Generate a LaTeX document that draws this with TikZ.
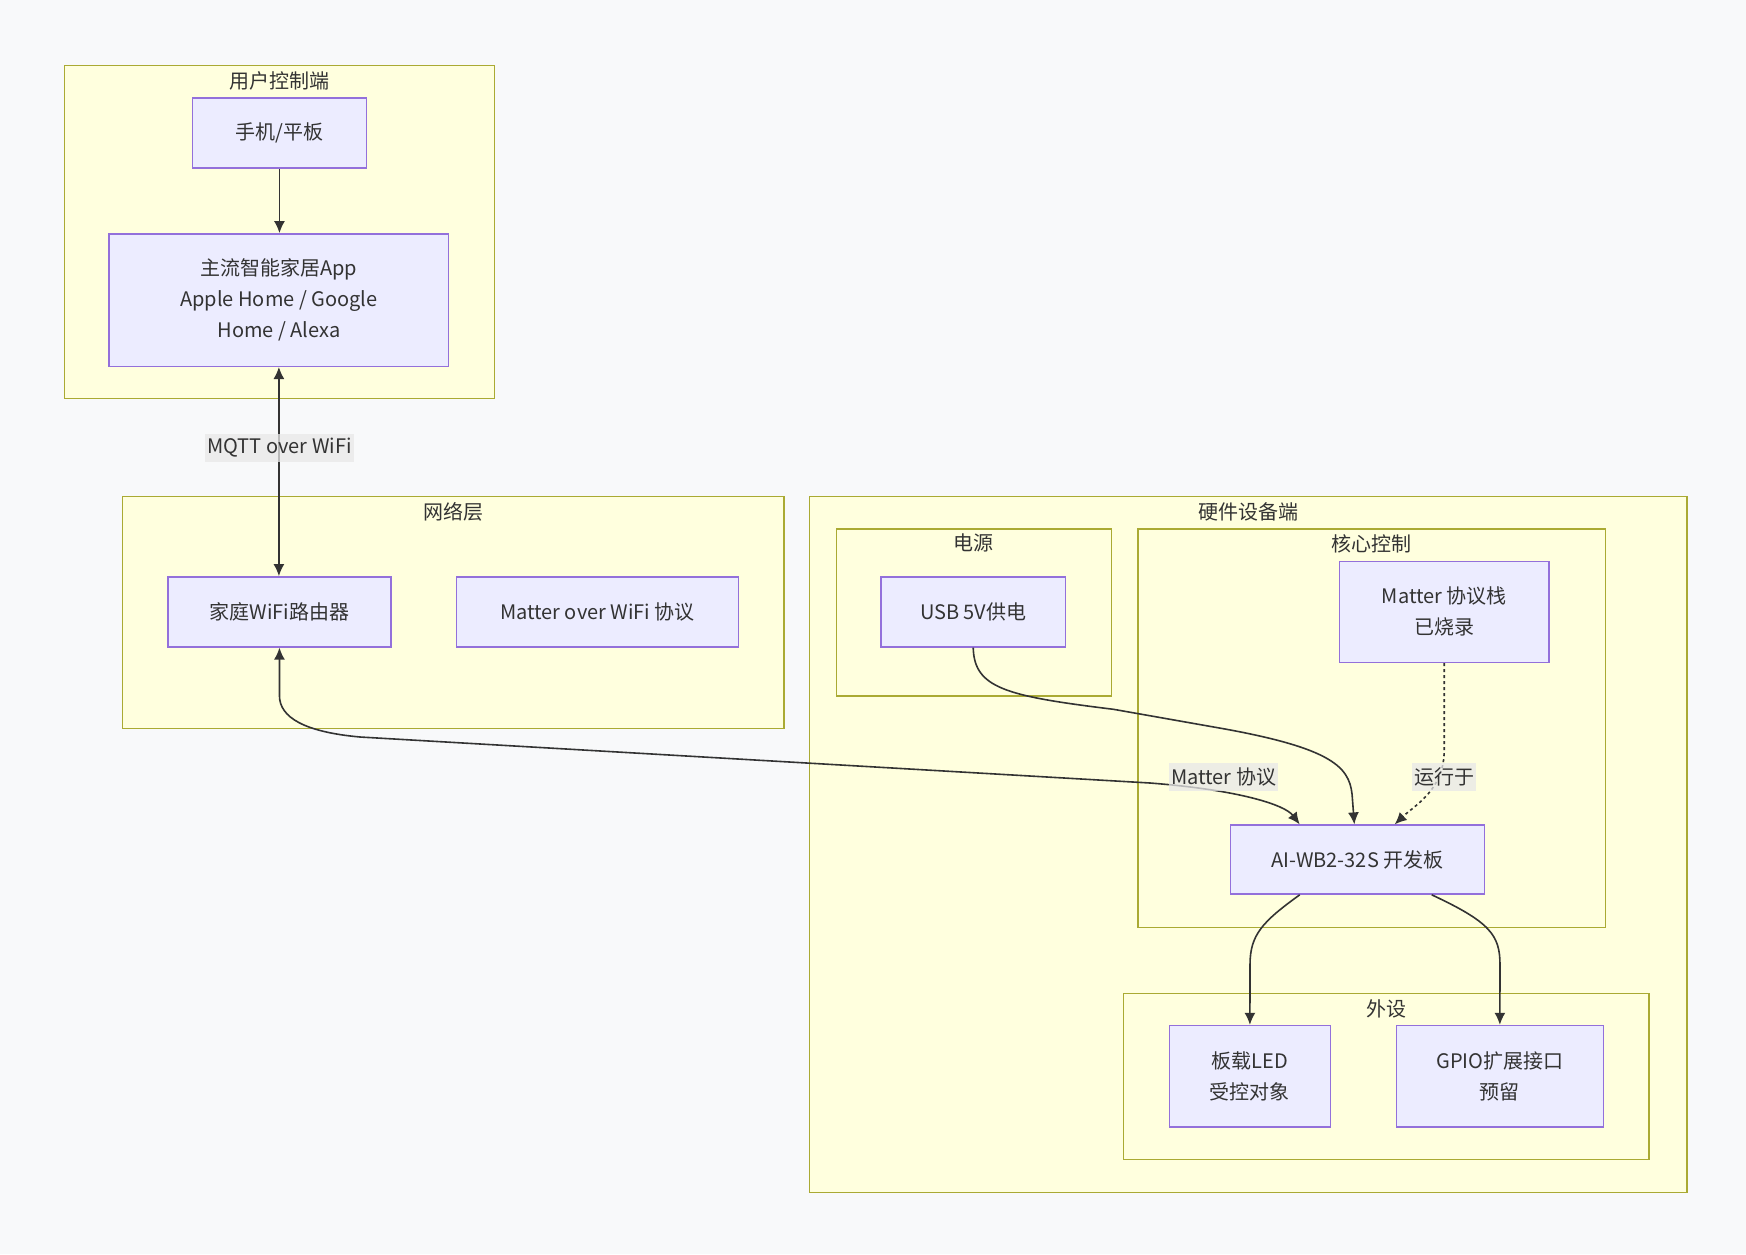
\documentclass[tikz,border=0pt]{standalone}
\usepackage{fontspec}
\setmainfont{Noto Sans CJK SC}
\usetikzlibrary{arrows.meta,calc,fit}
\definecolor{bgc}{HTML}{F8F9FA}
\definecolor{clfill}{HTML}{FFFFDE}
\definecolor{cldraw}{HTML}{AAAA33}
\definecolor{ndfill}{HTML}{ECECFF}
\definecolor{nddraw}{HTML}{9370DB}
\definecolor{edgec}{HTML}{333333}
\definecolor{lblc}{HTML}{E8E8E8}
\begin{document}
\begin{tikzpicture}[x=0.5pt,y=-0.5pt,
  cluster/.style={draw=cldraw,fill=clfill,line width=0.7pt,inner sep=0pt},
  cltitle/.style={font=\fontsize{10}{12}\selectfont,text=edgec,inner sep=0pt},
  box/.style={draw=nddraw,fill=ndfill,line width=0.7pt,inner sep=0pt,
    font=\fontsize{10}{15.5}\selectfont,text=edgec,align=center},
  conn/.style={draw=edgec,line width=0.8pt,-{Latex[length=6pt,width=5.5pt]}},
  biconn/.style={draw=edgec,line width=0.8pt,{Latex[length=6pt,width=5.5pt]}-{Latex[length=6pt,width=5.5pt]}},
  dotconn/.style={conn,dash pattern=on 1.5pt off 1.5pt},
  lbl/.style={fill=lblc,fill opacity=0.75,text opacity=1,text=edgec,
    font=\fontsize{10}{12}\selectfont,inner xsep=1pt,inner ysep=0pt,minimum height=14pt}
]
\fill[bgc] (0,0) rectangle (1746,1254);
\useasboundingbox (0,0) rectangle (1746,1254);

% clusters
\node[cluster,fit={(64.6,65.7) (494.4,398.6)}] (cuser) {};
\node[cltitle] (tuser) at (279.5,81.3) {用户控制端};
\node[cluster,fit={(122.5,496.6) (783.9,728.2)}] (cnet) {};
\node[cltitle] (tnet) at (453.2,512.2) {网络层};
\node[cluster,fit={(809.5,496.6) (1687,1192.6)}] (chw) {};
\node[cltitle] (thw) at (1248.3,512.2) {硬件设备端};
\node[cluster,fit={(836.2,528.9) (1111.3,695.9)}] (cpow) {};
\node[cltitle] (tpow) at (973.8,543.4) {电源};
\node[cluster,fit={(1138,528.9) (1605.7,927.5)}] (ccore) {};
\node[cltitle] (tcore) at (1371.8,543.4) {核心控制};
\node[cluster,fit={(1123.5,993.2) (1649.1,1159.2)}] (cper) {};
\node[cltitle] (tper) at (1386.3,1008.8) {外设};

% nodes
\node[box,minimum width=86.85pt,minimum height=35.05pt] (phone) at (279.45,133.05) {手机/平板};
\node[box,minimum width=169.8pt,minimum height=66.25pt] (app) at (278.9,300.05) {主流智能家居App\\Apple Home / Google\\Home / Alexa};
\node[box,minimum width=111.35pt,minimum height=35.05pt] (router) at (279.45,611.85) {家庭WiFi路由器};
\node[box,minimum width=140.9pt,minimum height=35.05pt] (mow) at (597.4,611.85) {Matter over WiFi 协议};
\node[box,minimum width=92.4pt,minimum height=35.05pt] (usb) at (973.2,611.85) {USB 5V供电};
\node[box,minimum width=104.7pt,minimum height=50.65pt] (stack) at (1444.2,611.85) {Matter 协议栈\\已烧录};
\node[box,minimum width=126.95pt,minimum height=34.5pt] (ai) at (1357.35,859.6) {AI-WB2-32S 开发板};
\node[box,minimum width=80.7pt,minimum height=50.7pt] (led) at (1249.9,1076.2) {板载LED\\受控对象};
\node[box,minimum width=103.55pt,minimum height=50.7pt] (gpio) at (1499.85,1076.2) {GPIO扩展接口\\预留};

% edges
\draw[conn] (phone.south) -- (phone.south |- app.north);
\draw[biconn] (app.south) -- (app.south |- router.north);
\node[lbl] (lmqtt) at (279.5,447.6) {MQTT over WiFi};

\draw[biconn] (router.south) -- ++(0,48) .. controls +(0,22) and (305,732) .. (360,737)
  -- (1150,783) .. controls (1240,790) and (1285,805) .. ($(ai.north west)+(70,0)$);
\node[lbl] (lmat) at (1223.7,777.2) {Matter 协议};

\draw[conn] (usb.south) .. controls (974.3,688) and (1005,696) .. (1113.5,709.3)
  -- (1225,729) .. controls (1340,750) and (1351,770) .. (1352.5,800) -- ($(ai.north)+(-3,0)$);

\draw[dotconn] (stack.south) -- (1444.2,750) .. controls (1444.2,790) and (1415,805) .. ($(ai.north west)+(165,0)$);
\node[lbl] (lrun) at (1444.2,777.2) {运行于};

\draw[conn] ($(ai.south west)+(70,0)$) .. controls (1262,922) and (1250,935) .. (1250,965) -- (led.north);
\draw[conn] ($(ai.south west)+(202,0)$) .. controls (1490,922) and (1500,935) .. (1500,965) -- (gpio.north);
\end{tikzpicture}
\end{document}
